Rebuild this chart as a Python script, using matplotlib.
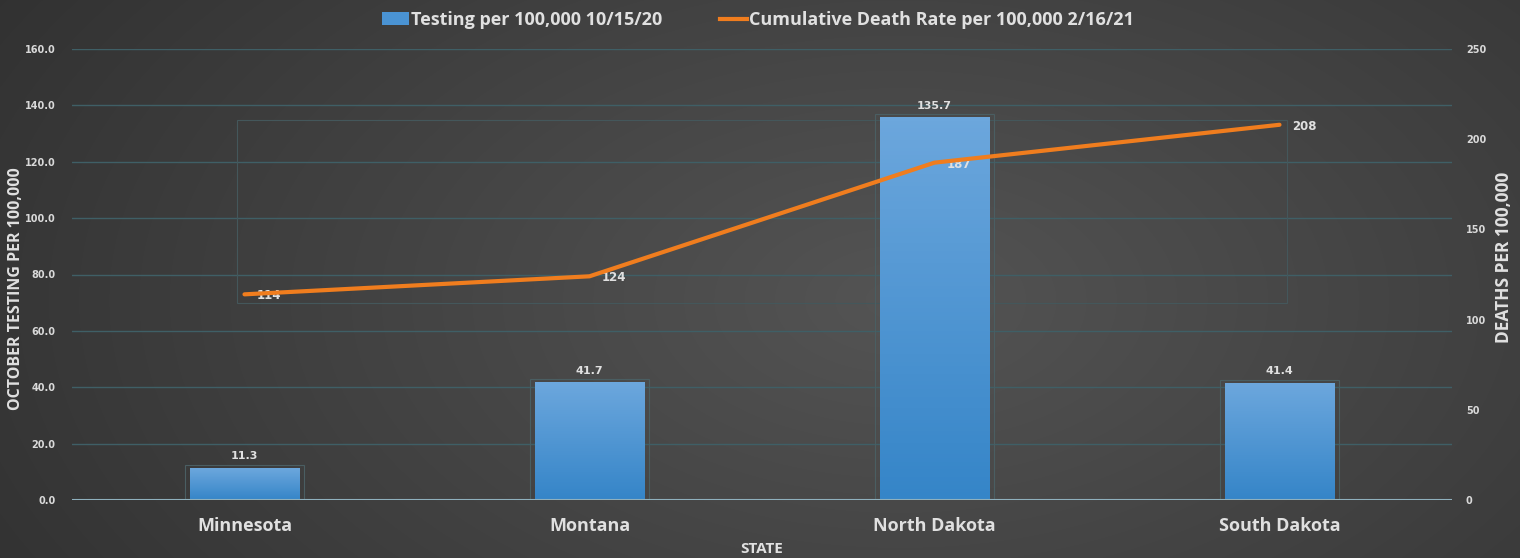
import numpy as np
import matplotlib
matplotlib.use("Agg")
import matplotlib.pyplot as plt
from matplotlib.patches import Rectangle, Patch
from matplotlib.lines import Line2D

states = ["Minnesota", "Montana", "North Dakota", "South Dakota"]
testing = [11.3, 41.7, 135.7, 41.4]
deaths = [114, 124, 187, 208]
left_ticks = [0, 20, 40, 60, 80, 100, 120, 140, 160]
right_ticks = [0, 50, 100, 150, 200, 250]
bar_label = "Testing per 100,000 10/15/20"
line_label = "Cumulative Death Rate per 100,000 2/16/21"

W, H = 1520, 558
fig = plt.figure(figsize=(W / 100, H / 100), dpi=100)

# background radial-ish gradient
bg = fig.add_axes([0, 0, 1, 1], zorder=-10)
yy, xx = np.mgrid[0:H, 0:W]
d = np.sqrt(((xx - 900) / 900.0) ** 2 + ((yy - 300) / 520.0) ** 2)
v = 0.33 - 0.14 * np.clip(d, 0, 1.2) / 1.2
img = np.dstack([v, v, v])
bg.imshow(img, aspect="auto", extent=[0, 1, 0, 1], origin="upper")
bg.set_axis_off()

ax = fig.add_axes([72 / W, 1 - 500 / H, (1452 - 72) / W, (500 - 49) / H])
ax.set_facecolor("none")
x = np.arange(len(states))
ax.set_xlim(-0.5, len(states) - 0.5)
ax.set_ylim(0, 160)

grid_c = "#3f5f66"
for t in left_ticks[1:]:
    ax.axhline(t, color=grid_c, lw=1.0, zorder=0)
ax.axhline(0, color="#8fb0bd", lw=1.5, zorder=3)

# faint leftover frame behind the bars
ax.add_patch(Rectangle((-0.022, 69.9), 3.044, 64.9, fill=False,
                       edgecolor="#44575b", lw=0.8, zorder=0.5))

bars = ax.bar(x, testing, width=0.316, color="#4a93d3", zorder=2,
              edgecolor="none")
grad = np.linspace(0, 1, 100).reshape(-1, 1)
top = np.array([0x6c, 0xa7, 0xdd]) / 255
bot = np.array([0x35, 0x85, 0xc8]) / 255
gimg = top[None, None, :] * (1 - grad[:, :, None]) + bot[None, None, :] * grad[:, :, None]
for b in bars:
    x0, w, h = b.get_x(), b.get_width(), b.get_height()
    ax.imshow(gimg, aspect="auto", extent=[x0, x0 + w, 0, h], origin="upper", zorder=2.1)
    ax.add_patch(Rectangle((x0 - 0.015, 0), w + 0.03, h + 1.2, fill=False,
                           edgecolor="#4a5e62", lw=0.8, zorder=1.9))
    ax.annotate(f"{h:.1f}", (x0 + w / 2, h), xytext=(0, 5), textcoords="offset points",
                ha="center", va="bottom", fontsize=8, fontweight="bold",
                color="#e0e0e0", family="DejaVu Sans")

ax.set_xticks(x)
ax.set_xticklabels(states, fontsize=13, fontweight="bold", color="#e0e0e0",
                   family="Open Sans")
ax.set_yticks(left_ticks)
ax.set_yticklabels([f"{t:.1f}" for t in left_ticks], fontsize=7, fontweight="bold",
                   color="#d9d9d9")
ax.tick_params(axis="x", length=0, pad=12)
ax.tick_params(axis="y", length=0, pad=12)
for s in ax.spines.values():
    s.set_visible(False)
ax.set_xlabel("STATE", fontsize=11, fontweight="bold", color="#e0e0e0",
              family="Open Sans", labelpad=5)
ax.set_ylabel("OCTOBER TESTING PER 100,000", fontsize=11.5, fontweight="bold",
              color="#e0e0e0", family="Open Sans")
ax.yaxis.set_label_coords((24 - 72) / 1380, 0.468)

ax2 = ax.twinx()
ax2.set_ylim(0, 250)
ax2.set_yticks(right_ticks)
ax2.set_yticklabels([str(t) for t in right_ticks], fontsize=7, fontweight="bold",
                    color="#d9d9d9")
ax2.tick_params(axis="y", length=0, pad=10)
for s in ax2.spines.values():
    s.set_visible(False)
ax2.set_ylabel("DEATHS PER 100,000", fontsize=12.5, fontweight="bold",
               color="#e0e0e0", family="Open Sans", rotation=90)
ax2.yaxis.set_label_coords((1495 - 72) / 1380, 0.539)

ax2.plot(x, deaths, color="#f07d1e", lw=3, zorder=5, solid_capstyle="round")
for xi, d_ in zip(x, deaths):
    ax2.annotate(str(d_), (xi, d_), xytext=(9, -1), textcoords="offset points",
                 ha="left", va="center", fontsize=8.5, fontweight="bold",
                 color="#e0e0e0", family="DejaVu Sans")

handles = [Patch(facecolor="#4a93d3", edgecolor="none"),
           Line2D([0], [0], color="#f07d1e", lw=3)]
leg = fig.legend(handles, [bar_label, line_label], loc="center",
                 bbox_to_anchor=(758 / W, 1 - 20 / H), ncol=2, frameon=False,
                 prop={"family": "Open Sans", "weight": "bold", "size": 13},
                 handlelength=1.5, handletextpad=0.1, columnspacing=3.2)
for t in leg.get_texts():
    t.set_color("#e0e0e0")

fig.savefig("out.png", dpi=100)
